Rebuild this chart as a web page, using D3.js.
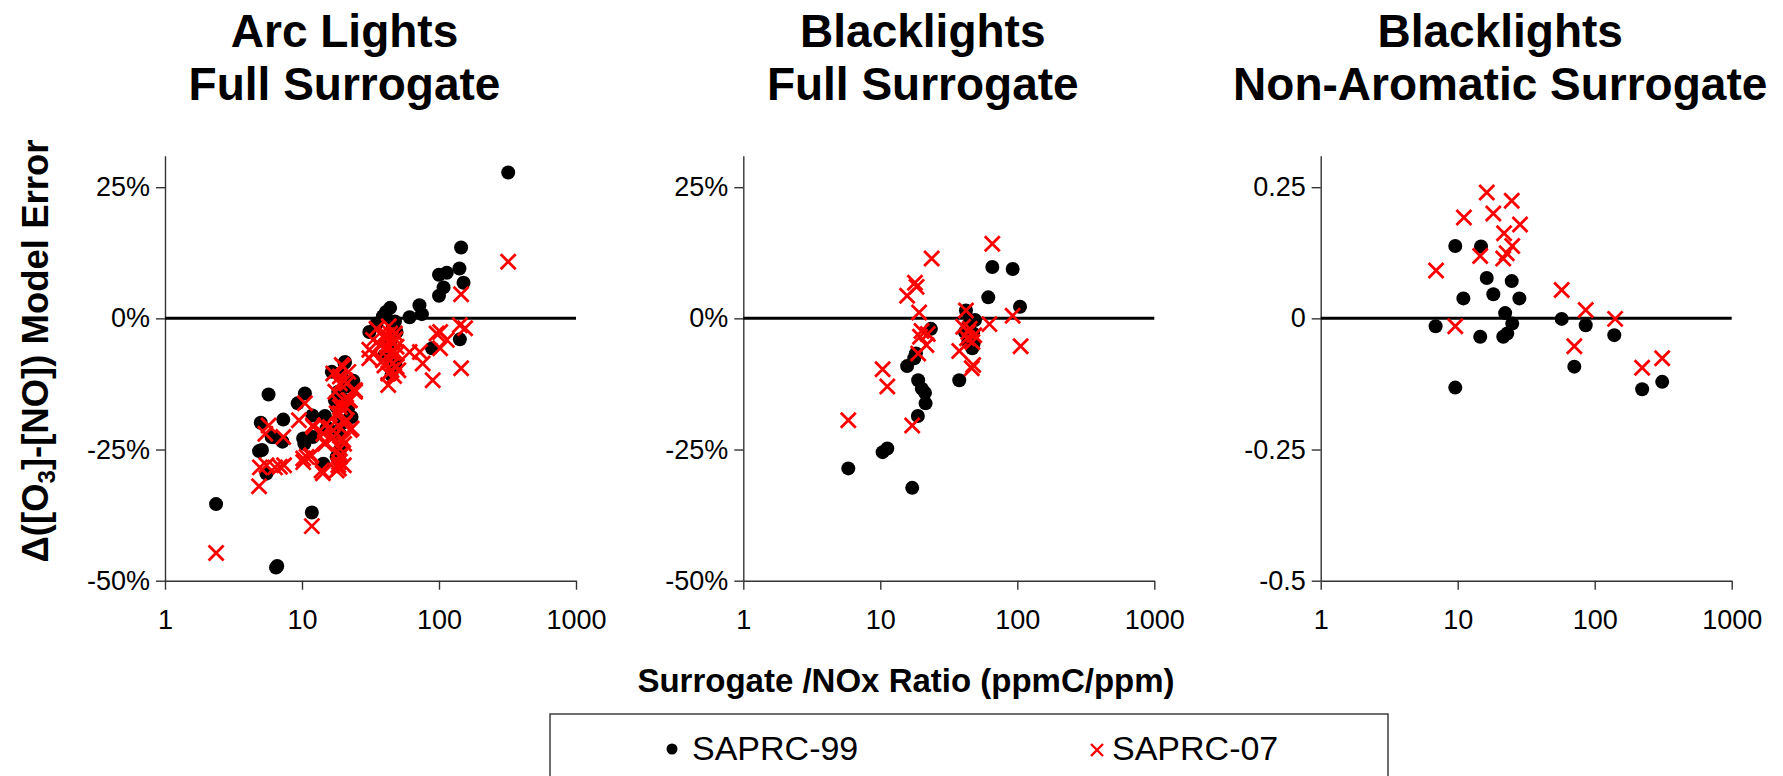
<!DOCTYPE html>
<html>
<head>
<meta charset="utf-8">
<script src="https://cdn.jsdelivr.net/npm/d3@7"></script>
<style>
  body { margin: 0; background: #fff; }
  svg { display: block; }
  text { font-family: "Liberation Sans", Arial, Helvetica, sans-serif; fill: #000; }
</style>
</head>
<body>
<svg id="chart" width="1783" height="776"></svg>
<script>
// ---- data ----
const panelTitles = [
  ["Arc Lights", "Full Surrogate"],
  ["Blacklights", "Full Surrogate"],
  ["Blacklights", "Non-Aromatic Surrogate"]
];
const seriesNames = ["SAPRC-99", "SAPRC-07"];
const xTickValues = [1, 10, 100, 1000];
const yTickValues = [-0.5, -0.25, 0, 0.25];
const yTickLabelsPct = ["-50%", "-25%", "0%", "25%"];
const yTickLabelsDec = ["-0.5", "-0.25", "0", "0.25"];
const xAxisTitle = "Surrogate /NOx Ratio (ppmC/ppm)";

// [surrogate/NOx ratio, model error]
const arcSaprc99 = [
  [320,0.278],[145,0.135],[141,0.095],[151,0.068],[100,0.083],[114,0.087],[108,0.059],[100,0.043],
  [72,0.025],[75,0.008],[61,0.002],[142,-0.040],[89,-0.057],[44,0.020],[39,0.004],[35,-0.010],
  [31,-0.026],[47.7,-0.006],[49,-0.026],[45,-0.108],[41,0.012],[46,-0.015],[20.4,-0.085],[23.7,-0.119],
  [18.4,-0.140],[5.7,-0.145],[10.5,-0.143],[9.3,-0.162],[11.9,-0.185],[14.7,-0.186],[7.3,-0.193],[5.0,-0.199],
  [22.4,-0.188],[6.0,-0.226],[7.2,-0.235],[10.2,-0.229],[12.0,-0.226],[10.4,-0.239],[4.86,-0.253],[14.3,-0.277],
  [5.5,-0.296],[2.36,-0.354],[11.8,-0.370],[6.46,-0.475],[6.6,-0.472],[18.9,-0.251],[17.9,-0.264],[15.1,-0.210],
  [18.9,-0.220],[19.5,-0.200],[17.9,-0.169],[20.6,-0.156],[16.5,-0.102],[21.8,-0.169],[23,-0.188],[17.4,-0.156],
  [15.6,-0.210],[6.2,-0.226],[5.1,-0.251],[20.6,-0.083],[19.5,-0.105],[21,-0.130],[44,-0.045],[40,-0.070],
  [48,-0.085]
];
const arcSaprc07 = [
  [320,0.108],[145,0.046],[142,-0.013],[155,-0.019],[102,-0.026],[114,-0.041],[102,-0.057],[145,-0.095],
  [90,-0.118],[76,-0.086],[61,-0.064],[72.6,-0.064],[42.6,-0.127],[96,-0.029],
  [33,-0.041],[31,-0.060],[31,-0.076],[37,-0.051],[41.5,-0.032],[47.7,-0.029],[49,-0.054],[44,-0.067],
  [39,-0.080],[46,-0.086],[50.5,-0.099],[42.6,-0.105],[41.5,-0.052],[44.5,-0.040],[46,-0.066],[33,-0.067],
  [39,-0.035],[44,-0.029],[46,-0.048],[41.5,-0.060],[49,-0.067],[44,-0.080],[49,-0.092],[45,-0.099],
  [35,-0.020],[43,-0.015],[48,-0.040],[40,-0.090],[47,-0.110],
  [16.9,-0.105],[20,-0.092],[18.9,-0.111],[21.2,-0.124],[24.4,-0.140],[21.8,-0.156],[18.9,-0.162],[10.5,-0.162],
  [9.5,-0.194],[18.9,-0.181],[22.4,-0.213],[5.7,-0.204],[19.5,-0.089],[21.8,-0.102],[20.6,-0.118],[24.4,-0.137],
  [22.4,-0.156],[18.9,-0.169],[17.9,-0.181],[21.2,-0.194],[18.4,-0.204],[23,-0.210],[16,-0.207],[14.3,-0.220],
  [16.9,-0.226],[20,-0.232],[14.7,-0.239],[18.9,-0.248],[18.9,-0.264],[18.4,-0.280],[13.9,-0.290],[17.9,-0.290],
  [10.8,-0.264],[10.2,-0.274],[12.1,-0.207],[11.7,-0.261],[7.3,-0.226],[5.4,-0.220],[6.9,-0.283],[5.5,-0.280],
  [2.36,-0.447],[11.8,-0.396],[4.86,-0.320],[4.93,-0.284],[6.35,-0.284],[7.4,-0.280],[14.2,-0.295],[18.6,-0.286],
  [18.6,-0.274],[20.3,-0.239],[16.5,-0.229],[23.7,-0.137],[18.9,-0.124],[14.7,-0.204],[14.7,-0.235],[12,-0.204],
  [10.2,-0.267],[11.6,-0.263],[20.2,-0.280],[19.2,-0.260],[20.5,-0.200],[17.5,-0.140],[21,-0.170]
];
const blFullSaprc99 = [
  [65.7,0.098],[92.5,0.094],[104.7,0.022],[61.4,0.040],[42.2,0.015],[49.1,-0.003],[23.4,-0.020],[41.5,-0.026],
  [45.1,-0.035],[47.6,-0.029],[43.9,-0.045],[46.9,-0.057],[18.2,-0.067],[17.7,-0.076],[15.7,-0.091],[18.9,-0.118],
  [20.1,-0.134],[21.2,-0.142],[21.4,-0.162],[37.7,-0.118],[18.8,-0.186],[10.4,-0.255],[11.25,-0.248],[5.84,-0.286],
  [17.1,-0.323],[44,-0.012],[48,-0.048]
];
const blFullSaprc07 = [
  [65.7,0.142],[23.7,0.114],[17.9,0.068],[18.4,0.060],[15.7,0.043],[19.2,0.011],[42.2,0.015],[92.5,0.005],
  [62.6,-0.011],[20,-0.024],[22.2,-0.030],[19.5,-0.035],[21.7,-0.051],[18.9,-0.067],[40.3,-0.016],[43.9,-0.026],
  [48.5,-0.032],[43,-0.038],[47,-0.045],[37.7,-0.062],[47.6,-0.089],[46.5,-0.095],[105.8,-0.053],[10.4,-0.097],
  [11.25,-0.130],[5.84,-0.194],[17.1,-0.204],[45,-0.020]
];
const blNonAroSaprc99 = [
  [9.6,0.138],[14.8,0.137],[16.3,0.077],[24.8,0.071],[11.0,0.038],[18.2,0.046],[28.2,0.038],[22.2,0.010],
  [25.0,-0.010],[6.9,-0.015],[14.6,-0.035],[21.5,-0.035],[23,-0.029],[9.6,-0.132],[57.4,-0.001],[86,-0.013],
  [71,-0.092],[139,-0.032],[222,-0.135],[311,-0.121]
];
const blNonAroSaprc07 = [
  [16.3,0.240],[24.8,0.224],[11.1,0.192],[18.2,0.200],[28.5,0.179],[21.8,0.162],[25,0.138],[22.8,0.124],
  [21.5,0.114],[14.6,0.119],[6.95,0.091],[9.6,-0.015],[57.4,0.054],[86,0.016],[141,-0.001],[71,-0.053],
  [222,-0.094],[311,-0.076]
];

const panelSeries = [
  [arcSaprc99, arcSaprc07],
  [blFullSaprc99, blFullSaprc07],
  [blNonAroSaprc99, blNonAroSaprc07]
];
const panelTickLabels = [yTickLabelsPct, yTickLabelsPct, yTickLabelsDec];

// ---- layout ----
const svg = d3.select("#chart");
const panelLeft = [165, 743.3, 1320.7];
const plotW = 411;
const plotTop = 155.7;
const plotBottom = 580.7;
const plotH = plotBottom - plotTop;
const dotR = 7;
const crossHalf = 7.5;
const axisColor = "#333";

const x = d3.scaleLog().domain([1, 1000]).range([0, plotW]);
const y = d3.scaleLinear().domain([-0.5, 0.31]).range([plotH, 0]);

const crossPath = (s) => `M${-s},${-s}L${s},${s}M${-s},${s}L${s},${-s}`;

panelSeries.forEach((series, i) => {
  const g = svg.append("g").attr("transform", `translate(${panelLeft[i]},${plotTop})`);

  // title (two centred lines)
  const tcx = plotW / 2 - 26;
  panelTitles[i].forEach((line, k) => {
    g.append("text")
      .attr("x", tcx).attr("y", 47 + k * 53 - plotTop)
      .attr("text-anchor", "middle")
      .style("font-size", "46px").style("font-weight", "bold")
      .text(line);
  });

  // y axis
  const labels = panelTickLabels[i];
  const yAxis = d3.axisLeft(y)
    .tickValues(yTickValues)
    .tickFormat((d, j) => labels[j])
    .tickSize(9).tickSizeOuter(0).tickPadding(6);
  const ya = g.append("g").call(yAxis).attr("font-family", null);
  ya.select(".domain").attr("stroke", axisColor).attr("stroke-width", 1.4);
  ya.selectAll(".tick line").attr("stroke", axisColor).attr("stroke-width", 1.4);
  ya.selectAll(".tick text").style("font-size", "27px").attr("fill", "#000");

  // x axis
  const xAxis = d3.axisBottom(x)
    .tickValues(xTickValues)
    .tickFormat(d3.format("d"))
    .tickSize(9).tickSizeOuter(0).tickPadding(20);
  const xa = g.append("g").attr("transform", `translate(0,${plotH})`).call(xAxis).attr("font-family", null);
  xa.select(".domain").attr("stroke", axisColor).attr("stroke-width", 1.4);
  xa.selectAll(".tick line").attr("stroke", axisColor).attr("stroke-width", 1.4);
  xa.selectAll(".tick text").style("font-size", "27px").attr("fill", "#000");

  // zero reference line
  g.append("line")
    .attr("x1", x(1)).attr("x2", x(1000))
    .attr("y1", y(0)).attr("y2", y(0))
    .attr("stroke", "#000").attr("stroke-width", 3);

  // SAPRC-99 : black dots
  g.append("g").selectAll("circle").data(series[0]).join("circle")
    .attr("cx", d => x(d[0])).attr("cy", d => y(d[1]))
    .attr("r", dotR).attr("fill", "#000");

  // SAPRC-07 : red crosses
  g.append("g").selectAll("path").data(series[1]).join("path")
    .attr("transform", d => `translate(${x(d[0])},${y(d[1])})`)
    .attr("d", crossPath(crossHalf))
    .attr("fill", "none").attr("stroke", "#ff0000").attr("stroke-width", 2.8);
});

// y-axis title (left panel only)
const yTitle = svg.append("text")
  .attr("transform", "translate(48,351) rotate(-90)")
  .attr("text-anchor", "middle")
  .style("font-size", "36.5px").style("font-weight", "bold");
yTitle.append("tspan").text("\u0394([O");
yTitle.append("tspan").attr("dy", 7).style("font-size", "24px").text("3");
yTitle.append("tspan").attr("dy", -7).text("]-[NO]) Model Error");

// x-axis title
svg.append("text")
  .attr("x", 906).attr("y", 692)
  .attr("text-anchor", "middle")
  .style("font-size", "33px").style("font-weight", "bold")
  .text(xAxisTitle);

// legend
const legend = svg.append("g");
legend.append("rect")
  .attr("x", 550).attr("y", 714).attr("width", 838).attr("height", 90)
  .attr("fill", "#fff").attr("stroke", axisColor).attr("stroke-width", 1.4);
legend.append("circle").attr("cx", 672).attr("cy", 749).attr("r", 5.5).attr("fill", "#000");
legend.append("text").attr("x", 692).attr("y", 760)
  .style("font-size", "34px").text(seriesNames[0]);
legend.append("path").attr("transform", "translate(1097,750)").attr("d", crossPath(6))
  .attr("fill", "none").attr("stroke", "#ff0000").attr("stroke-width", 2.4);
legend.append("text").attr("x", 1112).attr("y", 760)
  .style("font-size", "34px").text(seriesNames[1]);
</script>
</body>
</html>
